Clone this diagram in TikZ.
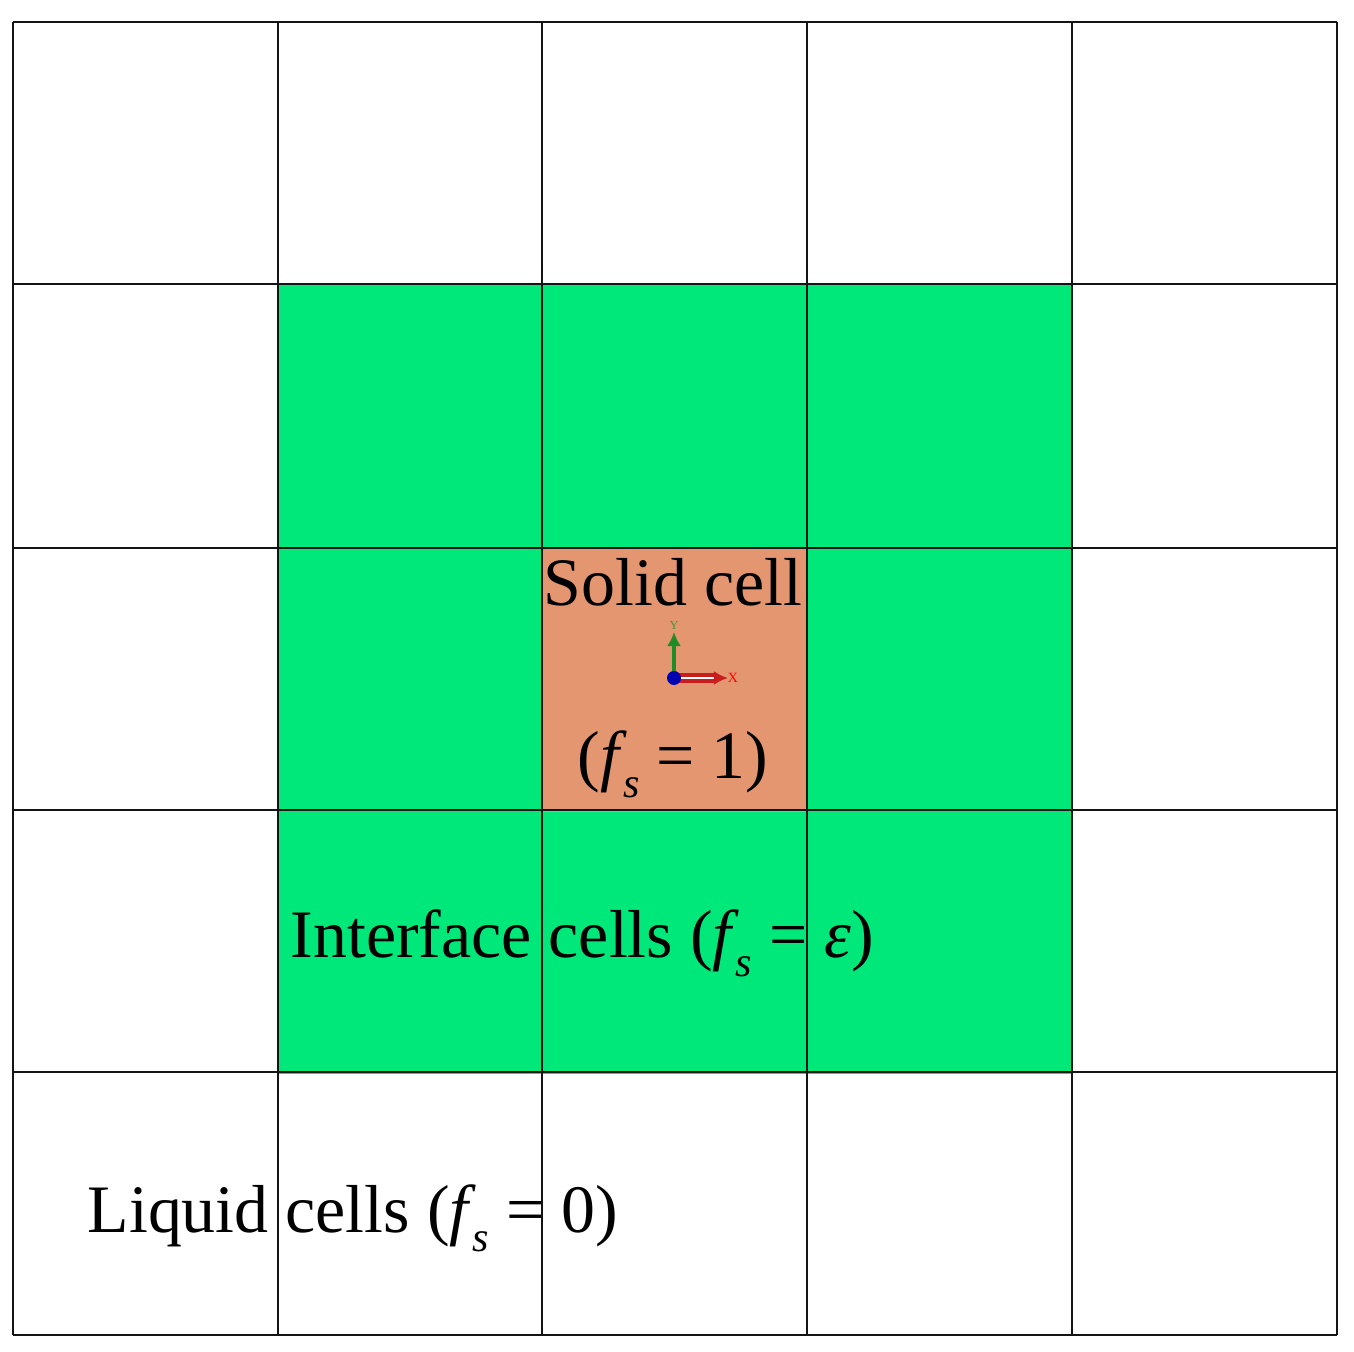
\documentclass[tikz,border=0pt]{standalone}
\usepackage{fontspec}
\setmainfont{Liberation Serif}
\usetikzlibrary{arrows.meta}
\definecolor{gcell}{RGB}{0,232,122}
\definecolor{scell}{RGB}{228,150,112}
\definecolor{gridc}{RGB}{20,20,20}
\newcommand{\fsub}{\textit{f}\kern-0.05em\raisebox{-0.28em}{\fontsize{12}{12}\selectfont\textit{s}}}
\begin{document}
\begin{tikzpicture}[x=0.01cm,y=-0.01cm,
  cellbox/.style={draw=none,minimum width=2.65cm,minimum height=2.63cm,inner sep=0pt,anchor=north west},
  lbl/.style={font=\fontsize{19.3}{22}\selectfont,inner sep=0pt},
  gline/.style={draw=gridc,line width=0.75pt}]
\useasboundingbox (0,0) rectangle (1354,1352);
% green interface cells
\foreach \i/\x in {1/278,2/542,3/807}{
  \foreach \j/\y in {1/284,2/548,3/810}{
    \node[cellbox,fill=gcell] (c\i\j) at (\x,\y) {};
  }
}
\node[cellbox,fill=scell] (solid) at (542,548) {};
% labels
\node[lbl,anchor=base] (tsolid) at (673,606) {Solid cell};
\node[lbl,anchor=base] (tfs1) at (673,778) {(\fsub\ = 1)};
\node[lbl,anchor=base west] (tint) at (290,957) {Interface cells (\fsub\ = \textit{ε})};
\node[lbl,anchor=base west] (tliq) at (87,1232) {Liquid cells (\fsub\ = 0)};
% axis glyph
\coordinate (o) at (674,678);
\coordinate (ytip) at (674,632);
\coordinate (xtip) at (728,678);
\draw[draw={rgb,255:red,30;green,140;blue,40},line width=1pt,-{Latex[length=4pt,width=4pt]}] (o) -- (ytip);
\draw[draw={rgb,255:red,200;green,30;blue,30},line width=1.2pt,double=white,double distance=0.5pt,-{Latex[length=4pt,width=4pt]}] (o) -- (xtip);
\fill[blue!70!black] (o) circle (7);
\node[font=\fontsize{3.5}{3.5}\selectfont,text={rgb,255:red,60;green,150;blue,60},inner sep=0pt] (ylab) at (674,625) {Y};
\node[font=\fontsize{4}{4}\selectfont,text=red,inner sep=0pt] (xlab) at (733,678) {X};
% grid on top
\foreach \x in {13,278,542,807,1072,1337}{\draw[gline] (\x,22) -- (\x,1335);}
\foreach \y in {22,284,548,810,1072,1335}{\draw[gline] (13,\y) -- (1337,\y);}
\end{tikzpicture}
\end{document}
